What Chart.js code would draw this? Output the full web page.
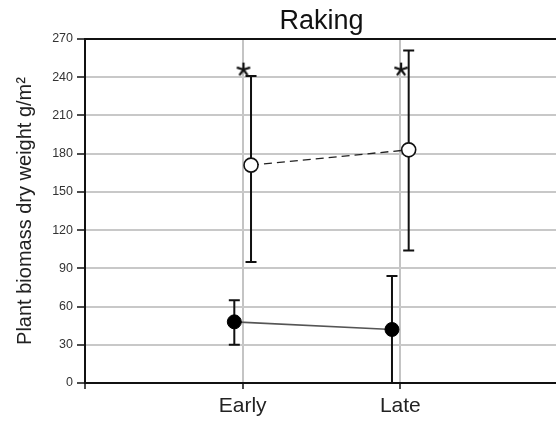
<!DOCTYPE html>
<html><head><meta charset="utf-8">
<script src="https://cdn.jsdelivr.net/npm/chart.js@4"></script>
<style>html,body{margin:0;padding:0;overflow:hidden;background:#fff;width:556px;height:423px}canvas{display:block}</style>
</head><body>
<canvas id="c" width="567" height="423"></canvas>
<script>
// ---- data ----
const categories = ['Early', 'Late'];
const openValues = [171, 183];
const openLow = [95, 104];
const openHigh = [241, 261];
const filledValues = [48, 42];
const filledLow = [30, 0];
const filledHigh = [65, 84];
const starValues = [246, 246];
const yTickValues = [0, 30, 60, 90, 120, 150, 180, 210, 240, 270];

// axis extent / small horizontal offsets so the two series do not overlap (category units)
const X_MAX = 3;
const OPEN_SHIFT = 0.053;
const FILLED_SHIFT = -0.053;
const STAR_SHIFT = 0.005;

const pts = (vals, shift) => vals.map((v, i) => ({x: i + 1 + shift, y: v}));

const FONT = "'Liberation Sans', Arial, sans-serif";

// five-armed asterisk marker
const star = document.createElement('canvas');
star.width = 16; star.height = 16;
(function () {
  const g = star.getContext('2d');
  g.strokeStyle = '#111'; g.lineWidth = 2.2; g.lineCap = 'butt';
  g.beginPath();
  for (let k = 0; k < 5; k++) {
    const a = -Math.PI / 2 + k * 2 * Math.PI / 5;
    g.moveTo(8, 8); g.lineTo(8 + 7 * Math.cos(a), 8 + 7 * Math.sin(a));
  }
  g.stroke();
})();

const errorBars = {
  id: 'errorBars',
  beforeDatasetsDraw(chart) {
    const ctx = chart.ctx, ys = chart.scales.y;
    chart.data.datasets.forEach((ds, di) => {
      if (!ds.errLow) return;
      const meta = chart.getDatasetMeta(di);
      meta.data.forEach((pt, i) => {
        const x = pt.x;
        const yl = ys.getPixelForValue(ds.errLow[i]);
        const yh = ys.getPixelForValue(ds.errHigh[i]);
        ctx.save();
        ctx.strokeStyle = '#111';
        ctx.lineWidth = 2;
        ctx.beginPath();
        ctx.moveTo(x, yl); ctx.lineTo(x, yh);
        ctx.moveTo(x - 5.5, yh); ctx.lineTo(x + 5.5, yh);
        if (ds.errLow[i] > 0) { ctx.moveTo(x - 5.5, yl); ctx.lineTo(x + 5.5, yl); }
        ctx.stroke();
        ctx.restore();
      });
    });
  }
};

new Chart(document.getElementById('c'), {
  type: 'scatter',
  data: {
    datasets: [
      {
        label: 'Control',
        data: pts(openValues, OPEN_SHIFT),
        errLow: openLow, errHigh: openHigh,
        showLine: true,
        borderColor: '#222', borderWidth: 1.4, borderDash: [8, 5],
        pointBackgroundColor: '#fff', pointBorderColor: '#111', pointBorderWidth: 1.6,
        pointRadius: 7, order: 2
      },
      {
        label: 'Raked',
        data: pts(filledValues, FILLED_SHIFT),
        errLow: filledLow, errHigh: filledHigh,
        showLine: true,
        borderColor: '#555', borderWidth: 1.6,
        pointBackgroundColor: '#000', pointBorderColor: '#000', pointBorderWidth: 1,
        pointRadius: 7, order: 1
      },
      {
        label: 'sig',
        data: pts(starValues, STAR_SHIFT),
        showLine: false,
        pointStyle: star, pointRadius: 8, order: 0
      }
    ]
  },
  options: {
    responsive: false,
    animation: false,
    devicePixelRatio: 1,
    layout: {padding: 0},
    plugins: {
      legend: {display: false},
      tooltip: {enabled: false},
      title: {display: false}
    },
    scales: {
      xTop: {
        type: 'linear', position: 'top', min: 0, max: X_MAX,
        afterFit(s) { s.height = 39; },
        ticks: {display: false},
        grid: {display: false},
        border: {display: false},
        title: {
          display: true, text: 'Raking', color: '#111',
          font: {family: FONT, size: 27, weight: 'normal'},
          padding: {top: 5, bottom: 0}
        }
      },
      x: {
        type: 'linear', position: 'bottom', min: 0, max: X_MAX,
        afterFit(s) { s.height = 40; },
        afterBuildTicks(s) { s.ticks = [0, 1, 2].map(v => ({value: v})); },
        ticks: {
          autoSkip: false, maxRotation: 0, padding: 5,
          color: '#222', font: {family: FONT, size: 21},
          callback: v => categories[v - 1] || ''
        },
        grid: {
          color: ctx => (ctx.tick && (ctx.tick.value === 1 || ctx.tick.value === 2)) ? '#c4c4c4' : 'rgba(0,0,0,0)',
          lineWidth: 2, tickColor: '#111', tickLength: 6, tickWidth: 1.5
        },
        border: {color: '#111', width: 2}
      },
      y: {
        min: 0, max: 270,
        afterFit(s) { s.width = 85; },
        afterBuildTicks(s) { s.ticks = yTickValues.map(v => ({value: v})); },
        ticks: {color: '#333', font: {family: FONT, size: 12.5}, padding: 4},
        title: {
          display: true, text: 'Plant biomass dry weight g/m²', color: '#222',
          font: {family: FONT, size: 20}, padding: {top: 13, bottom: 0}
        },
        grid: {
          color: ctx => (ctx.tick && ctx.tick.value === 270) ? '#111' : '#c8c8c8',
          lineWidth: 2, tickColor: '#111', tickLength: 8, tickWidth: 1.5
        },
        border: {color: '#111', width: 2}
      }
    }
  },
  plugins: [errorBars]
});
</script>
</body></html>
